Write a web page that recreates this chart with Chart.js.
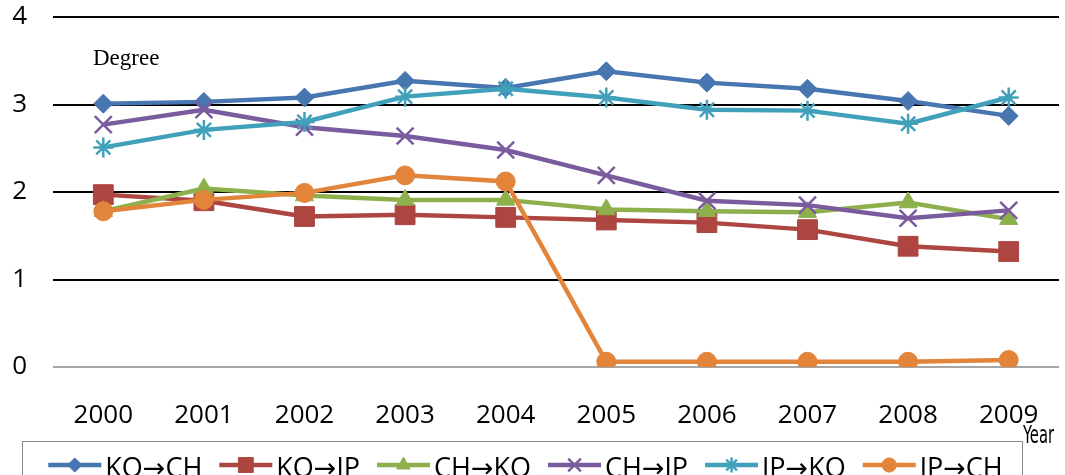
<!DOCTYPE html>
<html>
<head>
<meta charset="utf-8">
<script src="https://cdn.jsdelivr.net/npm/chart.js@4/dist/chart.umd.min.js"></script>
<style>
  html, body { margin: 0; padding: 0; overflow: hidden; background: #fff; }
  #wrap { position: absolute; left: 0; top: 0; width: 1074px; height: 500px; }
</style>
</head>
<body>
<div id="wrap"><canvas id="c"></canvas></div>
<script>
// ---- data ----
const years = ['2000','2001','2002','2003','2004','2005','2006','2007','2008','2009'];
const yTicks = [0, 1, 2, 3, 4];
const seriesNames = ['KO\u2192CH', 'KO\u2192JP', 'CH\u2192KO', 'CH\u2192JP', 'JP\u2192KO', 'JP\u2192CH'];
const koToCh = [3.01, 3.03, 3.08, 3.27, 3.19, 3.38, 3.25, 3.18, 3.04, 2.87];
const koToJp = [1.97, 1.90, 1.72, 1.74, 1.71, 1.68, 1.65, 1.57, 1.38, 1.32];
const chToKo = [1.78, 2.04, 1.96, 1.91, 1.91, 1.80, 1.78, 1.77, 1.88, 1.69];
const chToJp = [2.77, 2.94, 2.74, 2.64, 2.48, 2.19, 1.90, 1.85, 1.70, 1.79];
const jpToKo = [2.51, 2.71, 2.80, 3.09, 3.18, 3.08, 2.94, 2.93, 2.78, 3.08];
const jpToCh = [1.78, 1.91, 1.99, 2.19, 2.12, 0.06, 0.06, 0.06, 0.06, 0.08];
const yAxisTitle = 'Degree';
const xAxisTitle = 'Year';

// ---- styles ----
const colors = ['#4776B0', '#AD4541', '#8DB04C', '#7A5C9E', '#41A1BB', '#E2843A'];
const styles = ['rectRot', 'rect', 'triangle', 'crossRot', 'star', 'circle'];
const radii = [9.5, 14, 10.5, 12, 10, 9.5];
const borderW = [1, 1, 1, 2.5, 2.5, 1];
const seriesValues = [koToCh, koToJp, chToKo, chToJp, jpToKo, jpToCh];

const datasets = seriesValues.map((vals, i) => ({
  label: seriesNames[i],
  data: vals,
  borderColor: colors[i],
  backgroundColor: colors[i],
  borderWidth: 4.5,
  pointStyle: styles[i],
  pointRadius: radii[i],
  pointBackgroundColor: colors[i],
  pointBorderColor: colors[i],
  pointBorderWidth: borderW[i],
  tension: 0,
  order: seriesValues.length - i
}));

const tickFont = { family: '"Open Sans", "DejaVu Sans", sans-serif', size: 26 };

const extras = {
  id: 'extras',
  afterDraw(chart) {
    const ctx = chart.ctx;
    ctx.save();
    // y axis caption
    ctx.fillStyle = '#000';
    ctx.font = '23px "Liberation Serif", "Times New Roman", serif';
    ctx.textAlign = 'left';
    ctx.textBaseline = 'alphabetic';
    ctx.fillText(yAxisTitle, 93, 65);
    // x axis caption
    ctx.font = '25px "Liberation Sans Narrow", "DejaVu Sans Condensed", sans-serif';
    ctx.textAlign = 'right';
    ctx.fillText(xAxisTitle, 1054, 443, 31);
    // legend
    const boxL = 22.5, boxT = 441.5, boxR = 1022.5, boxB = 520;
    ctx.strokeStyle = '#888';
    ctx.lineWidth = 1;
    ctx.strokeRect(boxL, boxT, boxR - boxL, boxB - boxT);
    ctx.font = '27px "Open Sans", "DejaVu Sans", sans-serif';
    const lineLen = 53, gapText = 4, gapItem = 17;
    const widths = seriesNames.map(n => ctx.measureText(n).width);
    const total = widths.reduce((a, w) => a + lineLen + gapText + w, 0) + gapItem * (seriesNames.length - 1);
    let x = (boxL + boxR) / 2 - total / 2 + 3;
    const y = 465;
    seriesNames.forEach((n, i) => {
      ctx.strokeStyle = colors[i];
      ctx.fillStyle = colors[i];
      ctx.lineWidth = 4.5;
      ctx.beginPath();
      ctx.moveTo(x, y);
      ctx.lineTo(x + lineLen, y);
      ctx.stroke();
      ctx.lineWidth = borderW[i];
      Chart.helpers.drawPoint(ctx, { pointStyle: styles[i], radius: radii[i] * 0.75, borderWidth: borderW[i], rotation: 0 }, x + lineLen / 2, y);
      ctx.fillStyle = '#000';
      ctx.textAlign = 'left';
      ctx.textBaseline = 'middle';
      ctx.fillText(n, x + lineLen + gapText, y + 4);
      x += lineLen + gapText + widths[i] + gapItem;
    });
    ctx.restore();
  }
};

new Chart(document.getElementById('c'), {
  type: 'line',
  data: { labels: years, datasets },
  options: {
    responsive: true,
    maintainAspectRatio: false,
    animation: false,
    layout: { padding: { top: 17, left: 0, right: 0, bottom: 0 } },
    plugins: { legend: { display: false }, tooltip: { enabled: false } },
    scales: {
      x: {
        type: 'category',
        offset: true,
        grid: { display: false },
        border: { display: false },
        ticks: { font: tickFont, color: '#000', padding: 25, maxRotation: 0, autoSkip: false },
        afterFit(s) { s.height = 133; s.paddingLeft = 0; s.paddingRight = 0; }
      },
      y: {
        min: 0, max: 4,
        afterBuildTicks(s) { s.ticks = yTicks.map(v => ({ value: v })); },
        grid: {
          drawTicks: false,
          lineWidth: 2,
          color: c => (c.tick && c.tick.value === 0) ? '#A6A6A6' : '#000'
        },
        border: { display: false },
        ticks: { font: tickFont, color: '#000', padding: 26 },
        afterFit(s) { s.width = 53; s.paddingTop = 0; s.paddingBottom = 0; }
      }
    }
  },
  plugins: [extras]
});
</script>
</body>
</html>
